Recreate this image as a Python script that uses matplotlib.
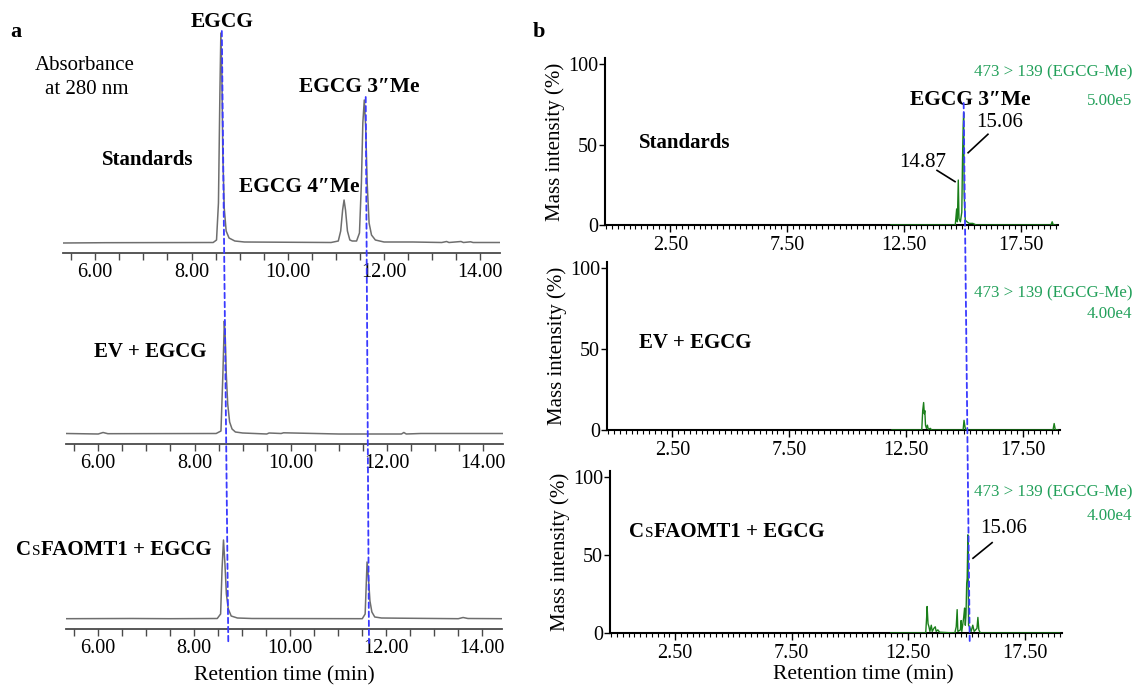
import matplotlib
matplotlib.use("Agg")
import matplotlib.pyplot as plt
from matplotlib.patches import ConnectionPatch
from matplotlib.ticker import MultipleLocator, FixedLocator, FormatStrFormatter
from matplotlib.offsetbox import TextArea, HPacker, AnnotationBbox

plt.rcParams["font.family"] = ["Liberation Serif", "DejaVu Serif"]

# ---- panel a: HPLC traces (absorbance at 280 nm, relative units above baseline)
std_t = [5.33, 6.2, 8.45, 8.52, 8.56, 8.59, 8.61, 8.63, 8.65, 8.68, 8.72, 8.78, 8.90, 9.1,
         10.9, 11.05, 11.10, 11.14, 11.17, 11.20, 11.24, 11.29, 11.34, 11.43, 11.49, 11.53,
         11.56, 11.59, 11.62, 11.65, 11.69, 11.74, 11.82, 12.0, 12.6, 13.2, 13.3, 13.35,
         13.6, 13.65, 13.8, 13.85, 14.41]
std_a = [0, 0.3, 0.5, 3, 40, 150, 210, 170, 90, 35, 12, 5, 2, 1,
         0.5, 2, 12, 33, 43, 33, 12, 3, 2, 2, 10, 60,
         120, 143, 115, 60, 20, 8, 3, 1, 1, 0.5, 1.5, 0.5,
         1.5, 0.5, 1.2, 0.5, 0.5]

ev_t = [5.33, 6.0, 6.1, 6.2, 8.45, 8.55, 8.59, 8.62, 8.64, 8.66, 8.69, 8.73, 8.78, 8.85,
        9.0, 9.5, 9.55, 9.8, 9.85, 10.8, 11.0, 12.3, 12.35, 12.4, 12.7, 14.41]
ev_a = [0.5, 0, 1.5, 0.3, 0.5, 3, 60, 113, 95, 60, 30, 12, 5, 2,
        1, 0, 1, 0.5, 1.2, 0.2, 0, 0, 1.5, 0, 0.5, 0.5]

omt_t = [5.33, 6.7, 7.5, 8.48, 8.55, 8.58, 8.61, 8.64, 8.67, 8.71, 8.77, 8.9, 9.2,
         11.5, 11.56, 11.60, 11.63, 11.66, 11.70, 11.76, 11.9, 12.3, 13.5, 13.6, 13.7, 14.41]
omt_a = [0.3, 0.5, 0.3, 0.5, 5, 50, 79, 55, 25, 10, 3, 1, 0.5,
         0.3, 5, 57, 40, 18, 7, 2, 1, 0.8, 0.3, 1.5, 0.5, 0.3]

# ---- panel b: MRM 473 > 139 (EGCG-Me), relative intensity (%)
ms_std_t = [11.95, 14.70, 14.76, 14.79, 14.83, 14.86, 14.92, 14.98, 15.01, 15.04, 15.06,
            15.08, 15.10, 15.13, 15.20, 15.30, 15.45, 15.6, 18.80, 18.85, 18.9, 19.0]
ms_std_i = [0, 0, 10, 2, 28, 4, 2, 8, 40, 62, 70,
            20, 12, 3, 2, 1, 1, 0, 0, 2, 0, 0]

ms_ev_t = [11.9, 13.18, 13.22, 13.26, 13.29, 13.31, 13.34, 13.38, 13.42, 13.46, 13.55,
           13.6, 14.95, 14.99, 15.03, 15.06, 18.8, 18.85, 18.9, 19.0]
ms_ev_i = [0, 0, 12, 17, 10, 12, 3, 1, 3, 0.5, 1,
           0, 0, 6, 2, 0, 0, 4, 0, 0]

ms_omt_t = [11.75, 13.25, 13.29, 13.31, 13.35, 13.39, 13.43, 13.49, 13.53, 13.60, 13.66,
            13.70, 13.77, 13.85, 14.5, 14.56, 14.60, 14.63, 14.74, 14.77, 14.80, 14.88,
            14.92, 14.95, 14.98, 15.01, 15.03, 15.06, 15.09, 15.13, 15.20, 15.27, 15.33,
            15.45, 15.49, 15.53, 15.6, 19.0]
ms_omt_i = [0, 0, 10, 17, 6, 4, 1, 5, 1, 3, 4,
            1, 2, 0.5, 0, 4, 15, 1, 2, 8, 1, 10,
            16, 5, 12, 32, 35, 63, 5, 4, 1, 5, 1,
            3, 10, 2, 0, 0]

a_traces = [(std_t, std_a), (ev_t, ev_a), (omt_t, omt_a)]
b_traces = [(ms_std_t, ms_std_i), (ms_ev_t, ms_ev_i), (ms_omt_t, ms_omt_i)]
b_scale = ["5.00e5", "4.00e4", "4.00e4"]
a_ticks = [6, 8, 10, 12, 14]
b_ticks = [2.5, 7.5, 12.5, 17.5]

W, H = 1135, 689
fig = plt.figure(figsize=(W / 100, H / 100), dpi=100)


def px_axes(left, top, right, bottom):
    ax = fig.add_axes([left / W, 1 - bottom / H, (right - left) / W, (bottom - top) / H])
    ax.set_facecolor("none")
    return ax


def ftext(x, y, s, **kw):
    kw.setdefault("ha", "center")
    kw.setdefault("va", "center")
    fig.text(x / W, 1 - y / H, s, **kw)


GRAY = "#6e6e6e"
GREEN = "#1a7f1a"
TGREEN = "#22a05a"
BLUE = "#3a3aff"

# ---- panel a axes
a_boxes = [(63, 25, 500, 253), (66, 216, 503, 444), (66, 401, 502, 629)]
ax_a = []
for (l, t, r, b), (xt, ya) in zip(a_boxes, a_traces):
    ax = px_axes(l, t, r, b)
    ax.plot(xt, ya, color=GRAY, lw=1.1)
    ax.set_xlim(5.33, 14.41)
    ax.set_ylim(-10, 218)
    for s in ["left", "right", "top"]:
        ax.spines[s].set_visible(False)
    ax.spines["bottom"].set_color("#4a4a4a")
    ax.spines["bottom"].set_linewidth(1.3)
    ax.set_yticks([])
    ax.xaxis.set_major_locator(FixedLocator(a_ticks))
    ax.xaxis.set_major_formatter(FormatStrFormatter("%.2f"))
    ax.xaxis.set_minor_locator(MultipleLocator(0.5))
    ax.tick_params(axis="x", which="both", length=5, width=1, color="#4a4a4a",
                   labelsize=14.5, pad=2)
    ax_a.append(ax)
ax_a[2].set_xlabel("Retention time (min)", fontsize=15.5, labelpad=6)

# ---- panel b axes
b_boxes = [(605, 58, 1058, 225), (607, 262, 1060, 430), (610, 471, 1062, 633)]
ax_b = []
for (l, t, r, b), (xt, yi) in zip(b_boxes, b_traces):
    ax = px_axes(l, t, r, b)
    ax.plot(xt, yi, color=GREEN, lw=1.0, zorder=3)
    ax.set_xlim(-0.3, 19.1)
    ax.set_ylim(0, 104)
    for s in ["right", "top"]:
        ax.spines[s].set_visible(False)
    for s in ["left", "bottom"]:
        ax.spines[s].set_linewidth(1.5)
    ax.set_yticks([0, 50, 100])
    ax.xaxis.set_major_locator(FixedLocator(b_ticks))
    ax.xaxis.set_major_formatter(FormatStrFormatter("%.2f"))
    ax.xaxis.set_minor_locator(MultipleLocator(0.25))
    ax.tick_params(axis="x", which="major", length=5, width=1, labelsize=14.5, pad=3)
    ax.tick_params(axis="x", which="minor", length=3, width=0.8)
    ax.tick_params(axis="y", length=4, width=1, labelsize=14.5, pad=1)
    ax.set_ylabel("Mass intensity (%)", fontsize=15, labelpad=2)
    ax_b.append(ax)
ax_b[2].set_xlabel("Retention time (min)", fontsize=15.5, labelpad=6)
ax_b[2].xaxis.set_label_coords(0.56, -0.2)

# ---- blue dashed guides
guides = [(ax_a[0], (8.63, 212), ax_a[2], (8.71, -24)),
          (ax_a[0], (11.62, 146), ax_a[2], (11.64, -24)),
          (ax_b[0], (15.06, 76), ax_b[2], (15.14, -7))]
for axA, pA, axB, pB in guides:
    cp = ConnectionPatch(xyA=pA, coordsA=axA.transData, xyB=pB, coordsB=axB.transData,
                         color=BLUE, lw=1.3, linestyle=(0, (3, 2)), zorder=5)
    fig.add_artist(cp)

# ---- texts panel a
bold = dict(fontweight="bold")
ftext(10, 32, "a", fontsize=16, ha="left", **bold)
ftext(222, 22, "EGCG", fontsize=15.5, **bold)
ftext(85, 65, "Absorbance", fontsize=15)
ftext(87, 89, "at 280 nm", fontsize=15)
ftext(359, 87, "EGCG 3\u2033Me", fontsize=15.5, **bold)
ftext(148, 160, "Standards", fontsize=15, **bold)
ftext(299, 187, "EGCG 4\u2033Me", fontsize=15.5, **bold)
ftext(150, 352, "EV + EGCG", fontsize=15, **bold)

# ---- texts panel b
ftext(533, 32, "b", fontsize=16, ha="left", **bold)
ftext(685, 143, "Standards", fontsize=15, **bold)
ftext(695, 343, "EV + EGCG", fontsize=15, **bold)
ftext(970, 100, "EGCG 3\u2033Me", fontsize=15.5, **bold)
green_y = [(72, 101), (293, 314), (492, 516)]
for (y1, y2), sc in zip(green_y, b_scale):
    ftext(1132, y1, "473 > 139 (EGCG-Me)", fontsize=12.2, color=TGREEN, ha="right")
    ftext(1132, y2, sc, fontsize=12.2, color=TGREEN, ha="right")

# peak labels with leader lines (data coords)
ax_b[0].text(16.62, 64, "15.06", fontsize=15, ha="center", va="center")
ax_b[0].plot([15.25, 16.1], [45, 56.5], color="k", lw=1.2)
ax_b[0].text(13.32, 39, "14.87", fontsize=15, ha="center", va="center")
ax_b[0].plot([13.92, 14.69], [34, 27], color="k", lw=1.2)
ax_b[2].text(16.61, 67, "15.06", fontsize=15, ha="center", va="center")
ax_b[2].plot([15.28, 16.1], [48, 58], color="k", lw=1.2)


# "CsFAOMT1 + EGCG" with small-capital s
def cs_label(x, y):
    parts = [TextArea("C", textprops=dict(fontsize=15, fontweight="bold")),
             TextArea("S", textprops=dict(fontsize=11, fontweight="normal")),
             TextArea("FAOMT1 + EGCG", textprops=dict(fontsize=15, fontweight="bold"))]
    box = HPacker(children=parts, align="baseline", pad=0, sep=0.5)
    ab = AnnotationBbox(box, (x / W, 1 - y / H), xycoords="figure fraction",
                        frameon=False, box_alignment=(0.5, 0.5), pad=0)
    fig.add_artist(ab)


cs_label(114, 550)
cs_label(727, 532)

fig.savefig("out.png", dpi=100)
